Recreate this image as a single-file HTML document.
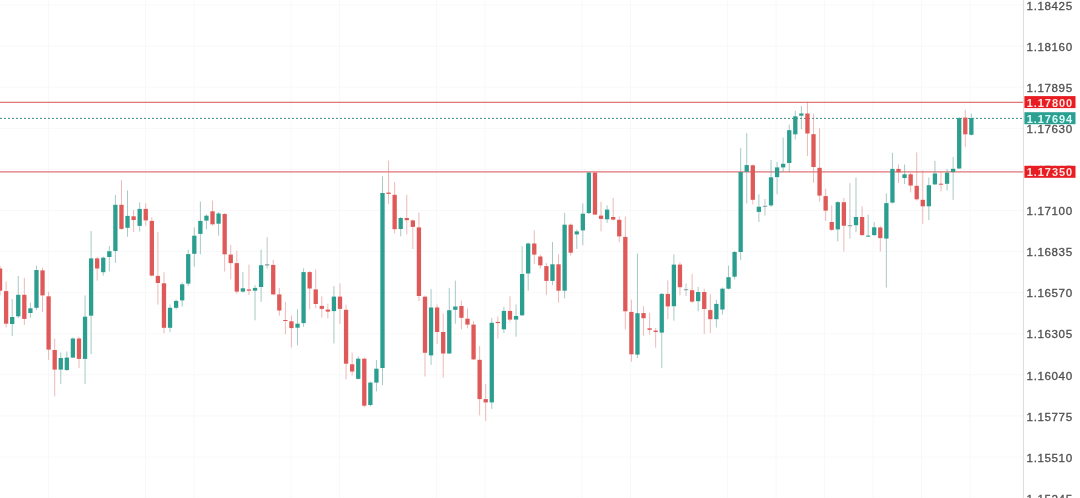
<!DOCTYPE html>
<html><head><meta charset="utf-8"><title>chart</title>
<style>
html,body{margin:0;padding:0;background:#fff;}
body{width:1080px;height:498px;overflow:hidden;position:relative;font-family:"Liberation Sans",sans-serif;}
svg{position:absolute;left:0;top:0;display:block;will-change:transform;}
text{font-family:"Liberation Sans",sans-serif;}
</style></head><body>
<svg width="1080" height="498" viewBox="0 0 1080 498">
<rect x="0" y="0" width="1080" height="498" fill="#ffffff"/>

<g stroke="#f8f8f9" stroke-width="1">
<line x1="0" y1="4.95" x2="1023" y2="4.95"/>
<line x1="0" y1="46.05" x2="1023" y2="46.05"/>
<line x1="0" y1="87.15" x2="1023" y2="87.15"/>
<line x1="0" y1="128.25" x2="1023" y2="128.25"/>
<line x1="0" y1="169.35" x2="1023" y2="169.35"/>
<line x1="0" y1="210.45" x2="1023" y2="210.45"/>
<line x1="0" y1="251.55" x2="1023" y2="251.55"/>
<line x1="0" y1="292.65" x2="1023" y2="292.65"/>
<line x1="0" y1="333.75" x2="1023" y2="333.75"/>
<line x1="0" y1="374.85" x2="1023" y2="374.85"/>
<line x1="0" y1="415.95" x2="1023" y2="415.95"/>
<line x1="0" y1="457.05" x2="1023" y2="457.05"/>
<line x1="0" y1="498.15" x2="1023" y2="498.15"/>
<line x1="48.50" y1="0" x2="48.50" y2="498"/>
<line x1="145.50" y1="0" x2="145.50" y2="498"/>
<line x1="194.00" y1="0" x2="194.00" y2="498"/>
<line x1="291.00" y1="0" x2="291.00" y2="498"/>
<line x1="339.50" y1="0" x2="339.50" y2="498"/>
<line x1="436.50" y1="0" x2="436.50" y2="498"/>
<line x1="485.00" y1="0" x2="485.00" y2="498"/>
<line x1="582.00" y1="0" x2="582.00" y2="498"/>
<line x1="630.50" y1="0" x2="630.50" y2="498"/>
<line x1="727.50" y1="0" x2="727.50" y2="498"/>
<line x1="776.00" y1="0" x2="776.00" y2="498"/>
<line x1="824.50" y1="0" x2="824.50" y2="498"/>
<line x1="873.00" y1="0" x2="873.00" y2="498"/>
<line x1="921.50" y1="0" x2="921.50" y2="498"/>
<line x1="970.00" y1="0" x2="970.00" y2="498"/>
</g>
<line x1="0" y1="102.3" x2="1024" y2="102.3" stroke="#df7479" stroke-width="1.2"/>
<line x1="0" y1="171.9" x2="1024" y2="171.9" stroke="#df7479" stroke-width="1.2"/>
<line x1="0" y1="118.4" x2="1024" y2="118.4" stroke="#3c8f86" stroke-width="1" stroke-dasharray="2 2"/>
<g>
<rect x="-0.45" y="266.00" width="1" height="29.40" fill="#e07f7d" opacity="0.55"/>
<rect x="-2.10" y="268.50" width="4.30" height="22.20" fill="#de5957"/>
<rect x="5.62" y="281.50" width="1" height="46.10" fill="#e07f7d" opacity="0.55"/>
<rect x="3.97" y="291.10" width="4.30" height="32.60" fill="#de5957"/>
<rect x="11.69" y="299.00" width="1" height="37.00" fill="#5d9e97" opacity="0.55"/>
<rect x="10.04" y="317.00" width="4.30" height="7.00" fill="#2c9e8f"/>
<rect x="17.76" y="276.00" width="1" height="42.00" fill="#5d9e97" opacity="0.55"/>
<rect x="16.11" y="294.80" width="4.30" height="21.50" fill="#2c9e8f"/>
<rect x="23.83" y="277.80" width="1" height="47.20" fill="#e07f7d" opacity="0.55"/>
<rect x="22.18" y="294.80" width="4.30" height="24.10" fill="#de5957"/>
<rect x="29.90" y="302.80" width="1" height="14.80" fill="#5d9e97" opacity="0.55"/>
<rect x="28.25" y="308.30" width="4.30" height="4.70" fill="#2c9e8f"/>
<rect x="35.97" y="265.70" width="1" height="44.30" fill="#5d9e97" opacity="0.55"/>
<rect x="34.32" y="270.00" width="4.30" height="37.80" fill="#2c9e8f"/>
<rect x="42.04" y="267.60" width="1" height="44.40" fill="#e07f7d" opacity="0.55"/>
<rect x="40.39" y="270.40" width="4.30" height="25.00" fill="#de5957"/>
<rect x="48.11" y="291.70" width="1" height="68.10" fill="#e07f7d" opacity="0.55"/>
<rect x="46.46" y="296.30" width="4.30" height="53.30" fill="#de5957"/>
<rect x="54.19" y="338.50" width="1" height="57.80" fill="#e07f7d" opacity="0.55"/>
<rect x="52.54" y="350.00" width="4.30" height="19.60" fill="#de5957"/>
<rect x="60.26" y="352.40" width="1" height="31.50" fill="#5d9e97" opacity="0.55"/>
<rect x="58.61" y="358.00" width="4.30" height="11.60" fill="#2c9e8f"/>
<rect x="66.33" y="351.50" width="1" height="19.50" fill="#5d9e97" opacity="0.55"/>
<rect x="64.68" y="357.60" width="4.30" height="12.40" fill="#2c9e8f"/>
<rect x="72.40" y="337.50" width="1" height="20.50" fill="#5d9e97" opacity="0.55"/>
<rect x="70.75" y="338.50" width="4.30" height="19.10" fill="#2c9e8f"/>
<rect x="78.47" y="336.70" width="1" height="31.40" fill="#e07f7d" opacity="0.55"/>
<rect x="76.82" y="338.50" width="4.30" height="20.40" fill="#de5957"/>
<rect x="84.54" y="295.40" width="1" height="88.50" fill="#5d9e97" opacity="0.55"/>
<rect x="82.89" y="316.70" width="4.30" height="42.20" fill="#2c9e8f"/>
<rect x="90.61" y="231.10" width="1" height="123.20" fill="#5d9e97" opacity="0.55"/>
<rect x="88.96" y="258.40" width="4.30" height="57.30" fill="#2c9e8f"/>
<rect x="96.68" y="257.00" width="1" height="23.60" fill="#e07f7d" opacity="0.55"/>
<rect x="95.03" y="258.40" width="4.30" height="10.10" fill="#de5957"/>
<rect x="102.75" y="256.50" width="1" height="19.10" fill="#5d9e97" opacity="0.55"/>
<rect x="101.10" y="257.70" width="4.30" height="14.50" fill="#2c9e8f"/>
<rect x="108.82" y="245.90" width="1" height="25.40" fill="#5d9e97" opacity="0.55"/>
<rect x="107.17" y="251.20" width="4.30" height="5.80" fill="#2c9e8f"/>
<rect x="114.89" y="195.00" width="1" height="68.00" fill="#5d9e97" opacity="0.55"/>
<rect x="113.24" y="204.80" width="4.30" height="46.20" fill="#2c9e8f"/>
<rect x="120.96" y="180.20" width="1" height="49.80" fill="#e07f7d" opacity="0.55"/>
<rect x="119.31" y="204.80" width="4.30" height="24.10" fill="#de5957"/>
<rect x="127.03" y="190.40" width="1" height="46.30" fill="#5d9e97" opacity="0.55"/>
<rect x="125.38" y="215.90" width="4.30" height="11.90" fill="#2c9e8f"/>
<rect x="133.10" y="209.80" width="1" height="22.20" fill="#e07f7d" opacity="0.55"/>
<rect x="131.45" y="216.30" width="4.30" height="3.70" fill="#de5957"/>
<rect x="139.17" y="202.40" width="1" height="29.10" fill="#5d9e97" opacity="0.55"/>
<rect x="137.52" y="208.90" width="4.30" height="17.00" fill="#2c9e8f"/>
<rect x="145.24" y="203.30" width="1" height="22.30" fill="#e07f7d" opacity="0.55"/>
<rect x="143.59" y="208.90" width="4.30" height="11.50" fill="#de5957"/>
<rect x="151.31" y="217.20" width="1" height="59.30" fill="#e07f7d" opacity="0.55"/>
<rect x="149.66" y="220.90" width="4.30" height="54.70" fill="#de5957"/>
<rect x="157.39" y="232.00" width="1" height="72.60" fill="#e07f7d" opacity="0.55"/>
<rect x="155.74" y="275.90" width="4.30" height="7.10" fill="#de5957"/>
<rect x="163.46" y="272.20" width="1" height="61.10" fill="#e07f7d" opacity="0.55"/>
<rect x="161.81" y="283.30" width="4.30" height="44.50" fill="#de5957"/>
<rect x="169.53" y="304.60" width="1" height="27.60" fill="#5d9e97" opacity="0.55"/>
<rect x="167.88" y="307.80" width="4.30" height="20.00" fill="#2c9e8f"/>
<rect x="175.60" y="299.50" width="1" height="10.00" fill="#5d9e97" opacity="0.55"/>
<rect x="173.95" y="300.90" width="4.30" height="6.90" fill="#2c9e8f"/>
<rect x="181.67" y="282.40" width="1" height="24.10" fill="#5d9e97" opacity="0.55"/>
<rect x="180.02" y="284.30" width="4.30" height="16.10" fill="#2c9e8f"/>
<rect x="187.74" y="249.60" width="1" height="36.40" fill="#5d9e97" opacity="0.55"/>
<rect x="186.09" y="254.10" width="4.30" height="29.50" fill="#2c9e8f"/>
<rect x="193.81" y="227.40" width="1" height="39.30" fill="#5d9e97" opacity="0.55"/>
<rect x="192.16" y="235.70" width="4.30" height="18.10" fill="#2c9e8f"/>
<rect x="199.88" y="201.50" width="1" height="52.80" fill="#5d9e97" opacity="0.55"/>
<rect x="198.23" y="220.90" width="4.30" height="13.00" fill="#2c9e8f"/>
<rect x="205.95" y="214.40" width="1" height="14.90" fill="#5d9e97" opacity="0.55"/>
<rect x="204.30" y="215.70" width="4.30" height="4.90" fill="#2c9e8f"/>
<rect x="212.02" y="200.60" width="1" height="25.00" fill="#e07f7d" opacity="0.55"/>
<rect x="210.37" y="211.30" width="4.30" height="13.00" fill="#de5957"/>
<rect x="218.09" y="212.00" width="1" height="23.70" fill="#5d9e97" opacity="0.55"/>
<rect x="216.44" y="213.50" width="4.30" height="10.20" fill="#2c9e8f"/>
<rect x="224.16" y="213.00" width="1" height="58.60" fill="#e07f7d" opacity="0.55"/>
<rect x="222.51" y="214.00" width="4.30" height="40.30" fill="#de5957"/>
<rect x="230.23" y="245.00" width="1" height="34.40" fill="#e07f7d" opacity="0.55"/>
<rect x="228.58" y="254.60" width="4.30" height="8.50" fill="#de5957"/>
<rect x="236.30" y="250.60" width="1" height="43.30" fill="#e07f7d" opacity="0.55"/>
<rect x="234.65" y="263.10" width="4.30" height="28.50" fill="#de5957"/>
<rect x="242.37" y="272.20" width="1" height="20.40" fill="#5d9e97" opacity="0.55"/>
<rect x="240.72" y="288.30" width="4.30" height="3.30" fill="#2c9e8f"/>
<rect x="248.44" y="264.60" width="1" height="30.40" fill="#e07f7d" opacity="0.55"/>
<rect x="246.79" y="289.40" width="4.30" height="1.30" fill="#de5957"/>
<rect x="254.52" y="285.10" width="1" height="35.20" fill="#5d9e97" opacity="0.55"/>
<rect x="252.87" y="287.90" width="4.30" height="2.80" fill="#2c9e8f"/>
<rect x="260.59" y="249.60" width="1" height="52.20" fill="#5d9e97" opacity="0.55"/>
<rect x="258.94" y="265.20" width="4.30" height="21.80" fill="#2c9e8f"/>
<rect x="266.66" y="237.20" width="1" height="31.50" fill="#8a9a98" opacity="0.55"/>
<rect x="265.01" y="264.30" width="4.30" height="1.20" fill="#7d9d99"/>
<rect x="272.73" y="259.80" width="1" height="35.50" fill="#e07f7d" opacity="0.55"/>
<rect x="271.08" y="264.90" width="4.30" height="29.50" fill="#de5957"/>
<rect x="278.80" y="287.90" width="1" height="27.80" fill="#e07f7d" opacity="0.55"/>
<rect x="277.15" y="294.40" width="4.30" height="16.10" fill="#de5957"/>
<rect x="284.87" y="301.80" width="1" height="32.40" fill="#e07f7d" opacity="0.55"/>
<rect x="283.22" y="320.00" width="4.30" height="1.00" fill="#de5957"/>
<rect x="290.94" y="315.70" width="1" height="31.80" fill="#e07f7d" opacity="0.55"/>
<rect x="289.29" y="321.30" width="4.30" height="6.80" fill="#de5957"/>
<rect x="297.01" y="309.20" width="1" height="36.10" fill="#5d9e97" opacity="0.55"/>
<rect x="295.36" y="323.70" width="4.30" height="4.00" fill="#2c9e8f"/>
<rect x="303.08" y="268.30" width="1" height="58.50" fill="#5d9e97" opacity="0.55"/>
<rect x="301.43" y="272.10" width="4.30" height="51.00" fill="#2c9e8f"/>
<rect x="309.15" y="271.00" width="1" height="38.20" fill="#e07f7d" opacity="0.55"/>
<rect x="307.50" y="272.10" width="4.30" height="16.40" fill="#de5957"/>
<rect x="315.22" y="269.40" width="1" height="38.90" fill="#e07f7d" opacity="0.55"/>
<rect x="313.57" y="289.40" width="4.30" height="14.60" fill="#de5957"/>
<rect x="321.29" y="296.30" width="1" height="21.30" fill="#e07f7d" opacity="0.55"/>
<rect x="319.64" y="305.90" width="4.30" height="3.00" fill="#de5957"/>
<rect x="327.36" y="303.70" width="1" height="14.80" fill="#e07f7d" opacity="0.55"/>
<rect x="325.71" y="309.60" width="4.30" height="2.00" fill="#de5957"/>
<rect x="333.43" y="286.10" width="1" height="57.30" fill="#5d9e97" opacity="0.55"/>
<rect x="331.78" y="296.60" width="4.30" height="14.50" fill="#2c9e8f"/>
<rect x="339.50" y="283.30" width="1" height="40.70" fill="#e07f7d" opacity="0.55"/>
<rect x="337.85" y="296.60" width="4.30" height="12.30" fill="#de5957"/>
<rect x="345.57" y="304.60" width="1" height="74.80" fill="#e07f7d" opacity="0.55"/>
<rect x="343.92" y="309.80" width="4.30" height="53.90" fill="#de5957"/>
<rect x="351.64" y="352.60" width="1" height="22.80" fill="#e07f7d" opacity="0.55"/>
<rect x="349.99" y="364.30" width="4.30" height="7.20" fill="#de5957"/>
<rect x="357.72" y="356.30" width="1" height="23.20" fill="#5d9e97" opacity="0.55"/>
<rect x="356.07" y="358.70" width="4.30" height="20.20" fill="#2c9e8f"/>
<rect x="363.79" y="357.50" width="1" height="49.70" fill="#e07f7d" opacity="0.55"/>
<rect x="362.14" y="358.70" width="4.30" height="47.00" fill="#de5957"/>
<rect x="369.86" y="381.50" width="1" height="24.80" fill="#5d9e97" opacity="0.55"/>
<rect x="368.21" y="382.60" width="4.30" height="22.40" fill="#2c9e8f"/>
<rect x="375.93" y="360.00" width="1" height="31.50" fill="#5d9e97" opacity="0.55"/>
<rect x="374.28" y="368.70" width="4.30" height="13.90" fill="#2c9e8f"/>
<rect x="382.00" y="176.30" width="1" height="208.70" fill="#5d9e97" opacity="0.55"/>
<rect x="380.35" y="193.00" width="4.30" height="175.00" fill="#2c9e8f"/>
<rect x="388.07" y="160.60" width="1" height="43.40" fill="#e07f7d" opacity="0.55"/>
<rect x="386.42" y="192.60" width="4.30" height="1.30" fill="#de5957"/>
<rect x="394.14" y="181.90" width="1" height="51.60" fill="#e07f7d" opacity="0.55"/>
<rect x="392.49" y="194.80" width="4.30" height="34.40" fill="#de5957"/>
<rect x="400.21" y="217.00" width="1" height="19.30" fill="#5d9e97" opacity="0.55"/>
<rect x="398.56" y="218.00" width="4.30" height="11.00" fill="#2c9e8f"/>
<rect x="406.28" y="194.80" width="1" height="39.70" fill="#e07f7d" opacity="0.55"/>
<rect x="404.63" y="218.00" width="4.30" height="2.20" fill="#de5957"/>
<rect x="412.35" y="219.50" width="1" height="29.50" fill="#e07f7d" opacity="0.55"/>
<rect x="410.70" y="220.40" width="4.30" height="6.50" fill="#de5957"/>
<rect x="418.42" y="212.40" width="1" height="88.80" fill="#e07f7d" opacity="0.55"/>
<rect x="416.77" y="227.40" width="4.30" height="68.60" fill="#de5957"/>
<rect x="424.49" y="295.50" width="1" height="81.00" fill="#e07f7d" opacity="0.55"/>
<rect x="422.84" y="296.70" width="4.30" height="56.10" fill="#de5957"/>
<rect x="430.56" y="288.90" width="1" height="76.00" fill="#5d9e97" opacity="0.55"/>
<rect x="428.91" y="307.50" width="4.30" height="47.90" fill="#2c9e8f"/>
<rect x="436.63" y="304.50" width="1" height="39.50" fill="#e07f7d" opacity="0.55"/>
<rect x="434.98" y="307.50" width="4.30" height="24.50" fill="#de5957"/>
<rect x="442.70" y="313.50" width="1" height="64.20" fill="#e07f7d" opacity="0.55"/>
<rect x="441.05" y="332.00" width="4.30" height="21.50" fill="#de5957"/>
<rect x="448.77" y="288.00" width="1" height="66.00" fill="#5d9e97" opacity="0.55"/>
<rect x="447.12" y="310.20" width="4.30" height="43.30" fill="#2c9e8f"/>
<rect x="454.84" y="280.60" width="1" height="43.10" fill="#5d9e97" opacity="0.55"/>
<rect x="453.19" y="306.50" width="4.30" height="3.30" fill="#2c9e8f"/>
<rect x="460.92" y="300.60" width="1" height="28.70" fill="#e07f7d" opacity="0.55"/>
<rect x="459.27" y="306.00" width="4.30" height="11.80" fill="#de5957"/>
<rect x="466.99" y="308.50" width="1" height="19.80" fill="#e07f7d" opacity="0.55"/>
<rect x="465.34" y="318.70" width="4.30" height="5.90" fill="#de5957"/>
<rect x="473.06" y="320.90" width="1" height="39.10" fill="#e07f7d" opacity="0.55"/>
<rect x="471.41" y="324.60" width="4.30" height="34.80" fill="#de5957"/>
<rect x="479.13" y="345.90" width="1" height="69.50" fill="#e07f7d" opacity="0.55"/>
<rect x="477.48" y="359.80" width="4.30" height="39.30" fill="#de5957"/>
<rect x="485.20" y="384.00" width="1" height="36.90" fill="#e07f7d" opacity="0.55"/>
<rect x="483.55" y="399.10" width="4.30" height="3.30" fill="#de5957"/>
<rect x="491.27" y="318.00" width="1" height="90.90" fill="#5d9e97" opacity="0.55"/>
<rect x="489.62" y="322.80" width="4.30" height="79.60" fill="#2c9e8f"/>
<rect x="497.34" y="316.30" width="1" height="22.20" fill="#e07f7d" opacity="0.55"/>
<rect x="495.69" y="321.90" width="4.30" height="1.20" fill="#de5957"/>
<rect x="503.41" y="306.70" width="1" height="26.30" fill="#5d9e97" opacity="0.55"/>
<rect x="501.76" y="310.90" width="4.30" height="18.40" fill="#2c9e8f"/>
<rect x="509.48" y="296.30" width="1" height="25.60" fill="#e07f7d" opacity="0.55"/>
<rect x="507.83" y="310.90" width="4.30" height="8.70" fill="#de5957"/>
<rect x="515.55" y="304.50" width="1" height="32.20" fill="#5d9e97" opacity="0.55"/>
<rect x="513.90" y="316.00" width="4.30" height="3.60" fill="#2c9e8f"/>
<rect x="521.62" y="246.30" width="1" height="69.70" fill="#5d9e97" opacity="0.55"/>
<rect x="519.97" y="274.00" width="4.30" height="41.30" fill="#2c9e8f"/>
<rect x="527.69" y="242.50" width="1" height="48.20" fill="#5d9e97" opacity="0.55"/>
<rect x="526.04" y="243.50" width="4.30" height="30.00" fill="#2c9e8f"/>
<rect x="533.76" y="230.30" width="1" height="33.60" fill="#e07f7d" opacity="0.55"/>
<rect x="532.11" y="243.50" width="4.30" height="11.10" fill="#de5957"/>
<rect x="539.83" y="254.60" width="1" height="13.90" fill="#e07f7d" opacity="0.55"/>
<rect x="538.18" y="256.50" width="4.30" height="8.90" fill="#de5957"/>
<rect x="545.90" y="263.00" width="1" height="32.00" fill="#e07f7d" opacity="0.55"/>
<rect x="544.25" y="266.10" width="4.30" height="14.80" fill="#de5957"/>
<rect x="551.97" y="242.00" width="1" height="43.20" fill="#5d9e97" opacity="0.55"/>
<rect x="550.32" y="264.30" width="4.30" height="16.60" fill="#2c9e8f"/>
<rect x="558.05" y="254.30" width="1" height="48.30" fill="#e07f7d" opacity="0.55"/>
<rect x="556.40" y="264.30" width="4.30" height="26.40" fill="#de5957"/>
<rect x="564.12" y="212.80" width="1" height="85.60" fill="#5d9e97" opacity="0.55"/>
<rect x="562.47" y="224.70" width="4.30" height="66.00" fill="#2c9e8f"/>
<rect x="570.19" y="223.50" width="1" height="32.10" fill="#e07f7d" opacity="0.55"/>
<rect x="568.54" y="224.70" width="4.30" height="28.00" fill="#de5957"/>
<rect x="576.26" y="229.50" width="1" height="19.40" fill="#5d9e97" opacity="0.55"/>
<rect x="574.61" y="231.40" width="4.30" height="3.00" fill="#2c9e8f"/>
<rect x="582.33" y="203.50" width="1" height="41.70" fill="#5d9e97" opacity="0.55"/>
<rect x="580.68" y="213.70" width="4.30" height="16.70" fill="#2c9e8f"/>
<rect x="588.40" y="172.00" width="1" height="42.00" fill="#5d9e97" opacity="0.55"/>
<rect x="586.75" y="172.60" width="4.30" height="40.50" fill="#2c9e8f"/>
<rect x="594.47" y="172.00" width="1" height="43.00" fill="#e07f7d" opacity="0.55"/>
<rect x="592.82" y="172.60" width="4.30" height="42.00" fill="#de5957"/>
<rect x="600.54" y="201.70" width="1" height="29.60" fill="#e07f7d" opacity="0.55"/>
<rect x="598.89" y="215.60" width="4.30" height="3.30" fill="#de5957"/>
<rect x="606.61" y="205.40" width="1" height="17.60" fill="#5d9e97" opacity="0.55"/>
<rect x="604.96" y="209.60" width="4.30" height="9.70" fill="#2c9e8f"/>
<rect x="612.68" y="198.00" width="1" height="22.50" fill="#e07f7d" opacity="0.55"/>
<rect x="611.03" y="217.00" width="4.30" height="2.60" fill="#de5957"/>
<rect x="618.75" y="216.50" width="1" height="25.70" fill="#e07f7d" opacity="0.55"/>
<rect x="617.10" y="219.80" width="4.30" height="16.60" fill="#de5957"/>
<rect x="624.82" y="216.50" width="1" height="112.80" fill="#e07f7d" opacity="0.55"/>
<rect x="623.17" y="236.90" width="4.30" height="74.40" fill="#de5957"/>
<rect x="630.89" y="299.70" width="1" height="62.00" fill="#e07f7d" opacity="0.55"/>
<rect x="629.24" y="311.90" width="4.30" height="42.40" fill="#de5957"/>
<rect x="636.96" y="253.50" width="1" height="104.50" fill="#5d9e97" opacity="0.55"/>
<rect x="635.31" y="313.20" width="4.30" height="41.40" fill="#2c9e8f"/>
<rect x="643.03" y="306.20" width="1" height="29.50" fill="#e07f7d" opacity="0.55"/>
<rect x="641.38" y="313.10" width="4.30" height="5.10" fill="#de5957"/>
<rect x="649.10" y="312.70" width="1" height="22.10" fill="#e07f7d" opacity="0.55"/>
<rect x="647.45" y="328.30" width="4.30" height="1.50" fill="#de5957"/>
<rect x="655.17" y="328.00" width="1" height="19.80" fill="#e07f7d" opacity="0.55"/>
<rect x="653.52" y="330.60" width="4.30" height="1.40" fill="#de5957"/>
<rect x="661.25" y="293.00" width="1" height="75.10" fill="#5d9e97" opacity="0.55"/>
<rect x="659.60" y="293.90" width="4.30" height="38.70" fill="#2c9e8f"/>
<rect x="667.32" y="280.40" width="1" height="38.80" fill="#e07f7d" opacity="0.55"/>
<rect x="665.67" y="293.90" width="4.30" height="12.50" fill="#de5957"/>
<rect x="673.39" y="254.40" width="1" height="66.20" fill="#5d9e97" opacity="0.55"/>
<rect x="671.74" y="264.60" width="4.30" height="41.60" fill="#2c9e8f"/>
<rect x="679.46" y="262.40" width="1" height="32.80" fill="#e07f7d" opacity="0.55"/>
<rect x="677.81" y="264.60" width="4.30" height="22.60" fill="#de5957"/>
<rect x="685.53" y="283.50" width="1" height="12.60" fill="#8a9a98" opacity="0.55"/>
<rect x="683.88" y="289.20" width="4.30" height="1.00" fill="#7d9d99"/>
<rect x="691.60" y="273.90" width="1" height="29.10" fill="#e07f7d" opacity="0.55"/>
<rect x="689.95" y="290.20" width="4.30" height="11.40" fill="#de5957"/>
<rect x="697.67" y="286.90" width="1" height="24.40" fill="#5d9e97" opacity="0.55"/>
<rect x="696.02" y="292.00" width="4.30" height="9.20" fill="#2c9e8f"/>
<rect x="703.74" y="288.70" width="1" height="45.20" fill="#e07f7d" opacity="0.55"/>
<rect x="702.09" y="292.00" width="4.30" height="17.00" fill="#de5957"/>
<rect x="709.81" y="294.30" width="1" height="38.70" fill="#e07f7d" opacity="0.55"/>
<rect x="708.16" y="310.10" width="4.30" height="9.10" fill="#de5957"/>
<rect x="715.88" y="299.80" width="1" height="27.60" fill="#5d9e97" opacity="0.55"/>
<rect x="714.23" y="303.90" width="4.30" height="15.30" fill="#2c9e8f"/>
<rect x="721.95" y="287.50" width="1" height="27.00" fill="#5d9e97" opacity="0.55"/>
<rect x="720.30" y="288.70" width="4.30" height="20.80" fill="#2c9e8f"/>
<rect x="728.02" y="265.60" width="1" height="23.90" fill="#5d9e97" opacity="0.55"/>
<rect x="726.37" y="277.20" width="4.30" height="11.50" fill="#2c9e8f"/>
<rect x="734.09" y="251.00" width="1" height="28.40" fill="#5d9e97" opacity="0.55"/>
<rect x="732.44" y="252.00" width="4.30" height="24.70" fill="#2c9e8f"/>
<rect x="740.16" y="148.10" width="1" height="111.90" fill="#5d9e97" opacity="0.55"/>
<rect x="738.51" y="172.00" width="4.30" height="80.00" fill="#2c9e8f"/>
<rect x="746.23" y="133.10" width="1" height="70.40" fill="#5d9e97" opacity="0.55"/>
<rect x="744.58" y="165.10" width="4.30" height="6.70" fill="#2c9e8f"/>
<rect x="752.30" y="164.50" width="1" height="39.90" fill="#e07f7d" opacity="0.55"/>
<rect x="750.65" y="165.30" width="4.30" height="34.50" fill="#de5957"/>
<rect x="758.37" y="194.30" width="1" height="27.70" fill="#5d9e97" opacity="0.55"/>
<rect x="756.72" y="206.70" width="4.30" height="5.20" fill="#2c9e8f"/>
<rect x="764.45" y="199.00" width="1" height="16.60" fill="#8a9a98" opacity="0.55"/>
<rect x="762.80" y="205.80" width="4.30" height="1.00" fill="#7d9d99"/>
<rect x="770.52" y="159.90" width="1" height="47.10" fill="#5d9e97" opacity="0.55"/>
<rect x="768.87" y="177.30" width="4.30" height="28.10" fill="#2c9e8f"/>
<rect x="776.59" y="161.80" width="1" height="32.50" fill="#5d9e97" opacity="0.55"/>
<rect x="774.94" y="167.40" width="4.30" height="9.70" fill="#2c9e8f"/>
<rect x="782.66" y="137.60" width="1" height="34.40" fill="#5d9e97" opacity="0.55"/>
<rect x="781.01" y="163.80" width="4.30" height="3.60" fill="#2c9e8f"/>
<rect x="788.73" y="124.60" width="1" height="47.50" fill="#5d9e97" opacity="0.55"/>
<rect x="787.08" y="130.20" width="4.30" height="32.80" fill="#2c9e8f"/>
<rect x="794.80" y="110.70" width="1" height="28.70" fill="#5d9e97" opacity="0.55"/>
<rect x="793.15" y="116.30" width="4.30" height="18.00" fill="#2c9e8f"/>
<rect x="800.87" y="106.00" width="1" height="23.00" fill="#5d9e97" opacity="0.55"/>
<rect x="799.22" y="113.50" width="4.30" height="2.20" fill="#2c9e8f"/>
<rect x="806.94" y="101.50" width="1" height="54.60" fill="#e07f7d" opacity="0.55"/>
<rect x="805.29" y="113.50" width="4.30" height="20.00" fill="#de5957"/>
<rect x="813.01" y="113.50" width="1" height="69.30" fill="#e07f7d" opacity="0.55"/>
<rect x="811.36" y="134.20" width="4.30" height="32.80" fill="#de5957"/>
<rect x="819.08" y="128.30" width="1" height="73.40" fill="#e07f7d" opacity="0.55"/>
<rect x="817.43" y="167.80" width="4.30" height="27.80" fill="#de5957"/>
<rect x="825.15" y="188.70" width="1" height="32.40" fill="#e07f7d" opacity="0.55"/>
<rect x="823.50" y="196.10" width="4.30" height="14.50" fill="#de5957"/>
<rect x="831.22" y="205.40" width="1" height="25.60" fill="#e07f7d" opacity="0.55"/>
<rect x="829.57" y="222.00" width="4.30" height="7.80" fill="#de5957"/>
<rect x="837.29" y="201.00" width="1" height="40.40" fill="#5d9e97" opacity="0.55"/>
<rect x="835.64" y="202.20" width="4.30" height="27.20" fill="#2c9e8f"/>
<rect x="843.36" y="198.00" width="1" height="53.50" fill="#e07f7d" opacity="0.55"/>
<rect x="841.71" y="202.20" width="4.30" height="23.50" fill="#de5957"/>
<rect x="849.43" y="183.10" width="1" height="55.50" fill="#8a9a98" opacity="0.55"/>
<rect x="847.78" y="225.20" width="4.30" height="1.00" fill="#7d9d99"/>
<rect x="855.50" y="177.60" width="1" height="54.50" fill="#5d9e97" opacity="0.55"/>
<rect x="853.85" y="217.00" width="4.30" height="8.20" fill="#2c9e8f"/>
<rect x="861.58" y="206.30" width="1" height="29.70" fill="#e07f7d" opacity="0.55"/>
<rect x="859.93" y="217.00" width="4.30" height="18.10" fill="#de5957"/>
<rect x="867.65" y="214.60" width="1" height="22.40" fill="#5d9e97" opacity="0.55"/>
<rect x="866.00" y="235.60" width="4.30" height="1.00" fill="#2c9e8f"/>
<rect x="873.72" y="222.00" width="1" height="14.00" fill="#5d9e97" opacity="0.55"/>
<rect x="872.07" y="227.30" width="4.30" height="7.80" fill="#2c9e8f"/>
<rect x="879.79" y="225.70" width="1" height="25.80" fill="#e07f7d" opacity="0.55"/>
<rect x="878.14" y="227.50" width="4.30" height="10.60" fill="#de5957"/>
<rect x="885.86" y="193.30" width="1" height="94.30" fill="#5d9e97" opacity="0.55"/>
<rect x="884.21" y="203.10" width="4.30" height="35.50" fill="#2c9e8f"/>
<rect x="891.93" y="152.80" width="1" height="50.70" fill="#5d9e97" opacity="0.55"/>
<rect x="890.28" y="168.90" width="4.30" height="33.70" fill="#2c9e8f"/>
<rect x="898.00" y="164.40" width="1" height="18.60" fill="#e07f7d" opacity="0.55"/>
<rect x="896.35" y="168.90" width="4.30" height="3.30" fill="#de5957"/>
<rect x="904.07" y="164.50" width="1" height="19.50" fill="#5d9e97" opacity="0.55"/>
<rect x="902.42" y="174.30" width="4.30" height="3.70" fill="#2c9e8f"/>
<rect x="910.14" y="172.80" width="1" height="19.60" fill="#e07f7d" opacity="0.55"/>
<rect x="908.49" y="174.30" width="4.30" height="11.20" fill="#de5957"/>
<rect x="916.21" y="152.40" width="1" height="48.30" fill="#e07f7d" opacity="0.55"/>
<rect x="914.56" y="185.80" width="4.30" height="13.50" fill="#de5957"/>
<rect x="922.28" y="170.50" width="1" height="53.30" fill="#e07f7d" opacity="0.55"/>
<rect x="920.63" y="199.80" width="4.30" height="6.50" fill="#de5957"/>
<rect x="928.35" y="177.50" width="1" height="42.70" fill="#5d9e97" opacity="0.55"/>
<rect x="926.70" y="185.20" width="4.30" height="21.10" fill="#2c9e8f"/>
<rect x="934.42" y="160.80" width="1" height="24.20" fill="#5d9e97" opacity="0.55"/>
<rect x="932.77" y="173.50" width="4.30" height="10.90" fill="#2c9e8f"/>
<rect x="940.49" y="172.00" width="1" height="19.50" fill="#e07f7d" opacity="0.55"/>
<rect x="938.84" y="183.70" width="4.30" height="1.00" fill="#de5957"/>
<rect x="946.56" y="169.00" width="1" height="21.60" fill="#5d9e97" opacity="0.55"/>
<rect x="944.91" y="172.70" width="4.30" height="11.10" fill="#2c9e8f"/>
<rect x="952.63" y="157.00" width="1" height="42.80" fill="#5d9e97" opacity="0.55"/>
<rect x="950.98" y="168.80" width="4.30" height="3.20" fill="#2c9e8f"/>
<rect x="958.70" y="117.00" width="1" height="52.00" fill="#5d9e97" opacity="0.55"/>
<rect x="957.05" y="118.10" width="4.30" height="50.40" fill="#2c9e8f"/>
<rect x="964.78" y="109.80" width="1" height="37.10" fill="#e07f7d" opacity="0.55"/>
<rect x="963.13" y="117.60" width="4.30" height="16.70" fill="#de5957"/>
<rect x="970.85" y="113.50" width="1" height="22.00" fill="#5d9e97" opacity="0.55"/>
<rect x="969.20" y="118.10" width="4.30" height="16.70" fill="#2c9e8f"/>
</g>
<rect x="1023.5" y="0" width="56.5" height="498" fill="#ffffff"/>
<line x1="1023.4" y1="0" x2="1023.4" y2="498" stroke="#dcdcdc" stroke-width="1"/>
<g font-size="11.6" fill="#4f4f4f" stroke="#4f4f4f" stroke-width="0.3" letter-spacing="0.6">
<text x="1026.6" y="9.60">1.18425</text>
<text x="1026.6" y="50.70">1.18160</text>
<text x="1026.6" y="91.80">1.17895</text>
<text x="1026.6" y="132.90">1.17630</text>
<text x="1026.6" y="174.00">1.17365</text>
<text x="1026.6" y="215.10">1.17100</text>
<text x="1026.6" y="256.20">1.16835</text>
<text x="1026.6" y="297.30">1.16570</text>
<text x="1026.6" y="338.40">1.16305</text>
<text x="1026.6" y="379.50">1.16040</text>
<text x="1026.6" y="420.60">1.15775</text>
<text x="1026.6" y="461.70">1.15510</text>
<text x="1026.6" y="502.80">1.15245</text>
</g>
<rect x="1024.4" y="96.10" width="51.1" height="12" fill="#e81c23"/>
<text x="1026.7" y="106.55" font-size="11" font-weight="bold" fill="#ffe4df" letter-spacing="0.95">1.17800</text>
<rect x="1024.4" y="112.20" width="51.1" height="12" fill="#2a9f92"/>
<text x="1026.7" y="122.65" font-size="11" font-weight="bold" fill="#dafff9" letter-spacing="0.95">1.17694</text>
<rect x="1024.4" y="165.80" width="51.1" height="12" fill="#e81c23"/>
<text x="1026.7" y="176.25" font-size="11" font-weight="bold" fill="#ffe4df" letter-spacing="0.95">1.17350</text>
</svg></body></html>
